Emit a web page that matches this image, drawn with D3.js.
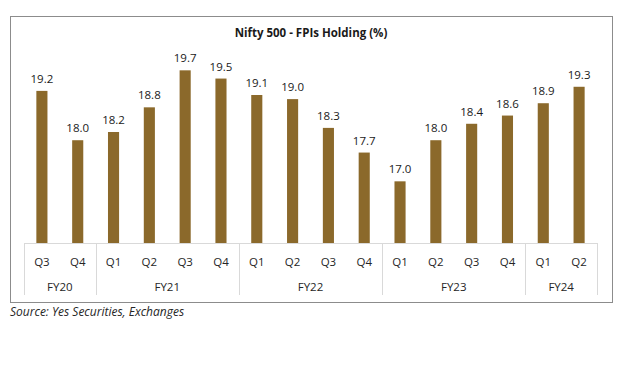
<!DOCTYPE html>
<html>
<head>
<meta charset="utf-8">
<script src="https://cdn.jsdelivr.net/npm/d3@7"></script>
<style>
  body { margin: 0; background: #fff; }
  svg { display: block; font-family: "Open Sans", "Liberation Sans", sans-serif; }
</style>
</head>
<body>
<div id="chart"></div>
<script>
const quarters = ["Q3", "Q4", "Q1", "Q2", "Q3", "Q4", "Q1", "Q2", "Q3", "Q4", "Q1", "Q2", "Q3", "Q4", "Q1", "Q2"];
const fiscalYears = ["FY20", "FY20", "FY21", "FY21", "FY21", "FY21", "FY22", "FY22", "FY22", "FY22", "FY23", "FY23", "FY23", "FY23", "FY24", "FY24"];
const holdings = [19.2, 18.0, 18.2, 18.8, 19.7, 19.5, 19.1, 19.0, 18.3, 17.7, 17.0, 18.0, 18.4, 18.6, 18.9, 19.3];

const W = 626, H = 368;
const plot = {left: 24, right: 597, top: 58, bottom: 243};
const barColor = "#8b692b";

const svg = d3.select("#chart").append("svg")
  .attr("width", W)
  .attr("height", H);

/* outer chart border */
svg.append("rect")
  .attr("x", 10.5).attr("y", 16.5)
  .attr("width", 602).attr("height", 286)
  .attr("fill", "none")
  .attr("stroke", "#8c8c8c")
  .attr("stroke-width", 1);

svg.append("text")
  .attr("x", 311).attr("y", 37)
  .attr("text-anchor", "middle")
  .attr("font-size", 11.5)
  .attr("font-weight", "bold")
  .attr("fill", "#1a1a1a")
  .text("Nifty 500 - FPIs Holding (%)");

const keys = d3.range(holdings.length);

const x = d3.scaleBand()
  .domain(keys)
  .range([plot.left, plot.right])
  .paddingInner(0.69)
  .paddingOuter(0.345);

const y = d3.scaleLinear()
  .domain([15.5, 20])
  .range([plot.bottom, plot.top]);

/* bars */
svg.append("g").selectAll("rect")
  .data(holdings)
  .join("rect")
    .attr("x", (d, i) => x(i))
    .attr("y", d => y(d))
    .attr("width", x.bandwidth())
    .attr("height", d => y(y.domain()[0]) - y(d))
    .attr("fill", barColor);

/* data labels */
svg.append("g").selectAll("text")
  .data(holdings)
  .join("text")
    .attr("x", (d, i) => x(i) + x.bandwidth() / 2)
    .attr("y", d => y(d) - 8)
    .attr("text-anchor", "middle")
    .attr("font-size", 11.5)
    .attr("fill", "#1a1a1a")
    .text(d => d.toFixed(1));

/* two-level category axis */
const step = x.step();
const posOf = i => plot.left + i * step;
const axis = svg.append("g");
const gridColor = "#d9d9d9";

axis.append("line")
  .attr("x1", plot.left).attr("x2", plot.right)
  .attr("y1", plot.bottom + 0.5).attr("y2", plot.bottom + 0.5)
  .attr("stroke", gridColor);

/* group spans from fiscalYears */
const groups = [];
fiscalYears.forEach((fy, i) => {
  const g = groups[groups.length - 1];
  if (g && g.name === fy) g.end = i + 1;
  else groups.push({name: fy, start: i, end: i + 1});
});

const bounds = [0].concat(groups.map(g => g.end));
axis.selectAll("line.sep")
  .data(bounds)
  .join("line")
    .attr("class", "sep")
    .attr("x1", d => Math.round(posOf(d)) + 0.5)
    .attr("x2", d => Math.round(posOf(d)) + 0.5)
    .attr("y1", plot.bottom)
    .attr("y2", 295)
    .attr("stroke", gridColor);

axis.selectAll("text.q")
  .data(quarters)
  .join("text")
    .attr("class", "q")
    .attr("x", (d, i) => x(i) + x.bandwidth() / 2)
    .attr("y", 266)
    .attr("text-anchor", "middle")
    .attr("font-size", 11.5)
    .attr("fill", "#262626")
    .text(d => d);

axis.selectAll("text.fy")
  .data(groups)
  .join("text")
    .attr("class", "fy")
    .attr("x", d => (posOf(d.start) + posOf(d.end)) / 2)
    .attr("y", 291)
    .attr("text-anchor", "middle")
    .attr("font-size", 11.5)
    .attr("fill", "#262626")
    .text(d => d.name);

svg.append("text")
  .attr("x", 10).attr("y", 316)
  .attr("font-size", 12)
  .attr("font-style", "italic")
  .attr("fill", "#262626")
  .text("Source: Yes Securities, Exchanges");
</script>
</body>
</html>
